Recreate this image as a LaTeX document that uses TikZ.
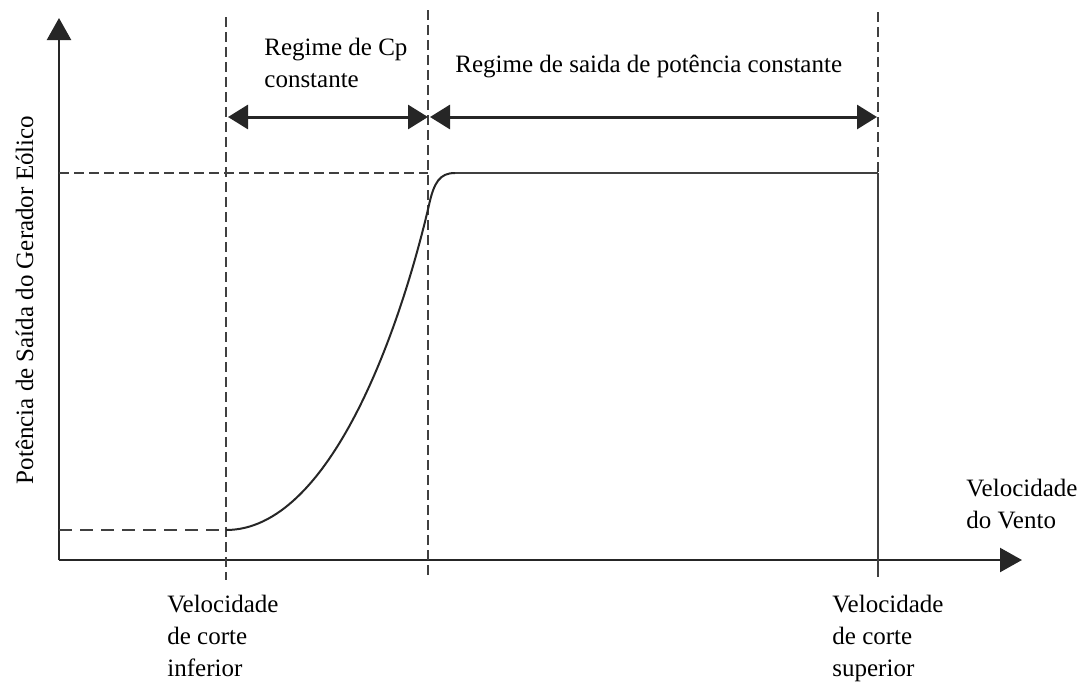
\documentclass[tikz,border=0pt]{standalone}
\usepackage{fontspec}
\setmainfont{Liberation Serif}
\usetikzlibrary{arrows.meta,positioning,calc}

\begin{document}
\begin{tikzpicture}[x=0.5pt, y=-0.5pt,
  every node/.style={inner sep=0pt, font=\fontsize{12.5}{16}\selectfont},
  dashline/.style={dash pattern=on 5pt off 2.5pt, line width=0.9pt, black!75},
  plainline/.style={line width=0.8pt, black!75},
  axisline/.style={line width=1.2pt, black!85, -{Triangle[length=11pt,width=12pt]}},
  regime/.style={line width=1.5pt, black!85, {Triangle[length=10pt,width=12pt]}-{Triangle[length=10pt,width=12pt]}}]

  \useasboundingbox (0,0) rectangle (1089,682);

  \coordinate (O) at (59,560);
  \coordinate (y_top) at (59,18);
  \coordinate (x_end) at (1022,560);
  \draw[axisline] (O) -- (y_top);
  \draw[axisline] (O) -- (x_end);

  % cut-in, rated and cut-out speed lines
  \coordinate (in_top) at (226,17);
  \coordinate (in_bot) at (226,580);
  \coordinate (rated_top) at (428,10);
  \coordinate (rated_bot) at (428,578);
  \coordinate (out_top) at (878,12);
  \coordinate (out_mid) at (878,173);
  \coordinate (out_bot) at (878,577);
  \draw[dashline] (in_top) -- (in_bot);
  \draw[dashline] (rated_top) -- (rated_bot);
  \draw[dashline] (out_top) -- (out_mid);
  \draw[plainline] (out_mid) -- (out_bot);

  \coordinate (P_rated) at (59,173);
  \coordinate (P_min) at (59,530);
  \coordinate (curve_start) at (226,530);
  \coordinate (curve_end) at (455,173);
  \draw[dashline] (P_rated) -- (rated_top |- P_rated);
  \draw[dashline, dash pattern=on 6.5pt off 4pt] (P_min) -- (curve_start);
  \draw[plainline] (curve_end) -- (out_mid);

  \draw[line width=1pt, black!85] (curve_start) .. controls (330,530) and (400,330) .. (429,205)
    .. controls (434,182) and (440,173) .. (curve_end);

  \coordinate (A1_arr) at (228,117);
  \coordinate (A2_arr) at (428,117);
  \coordinate (A3_arr) at (430,117);
  \coordinate (A4_arr) at (877,117);
  \draw[regime] (A1_arr) -- (A2_arr);
  \draw[regime] (A3_arr) -- (A4_arr);

  % multi-line nodes: base is the last line
  \node (cp_text) at (264,87) [anchor=base west, align=left] {Regime de Cp\\constante};
  \node (pot_text) at (455,72) [anchor=base west] {Regime de saida de potência constante};

  \node (ylabel) at (33,300) [anchor=base, rotate=90] {Potência de Saída do Gerador Eólico};
  \node (xlabel) at (966,528) [anchor=base west, align=left] {Velocidade\\do Vento};

  \node (v_in) at (167,676) [anchor=base west, align=left] {Velocidade\\de corte\\inferior};
  \node (v_out) at (832,676) [anchor=base west, align=left] {Velocidade\\de corte\\superior};
\end{tikzpicture}
\end{document}
